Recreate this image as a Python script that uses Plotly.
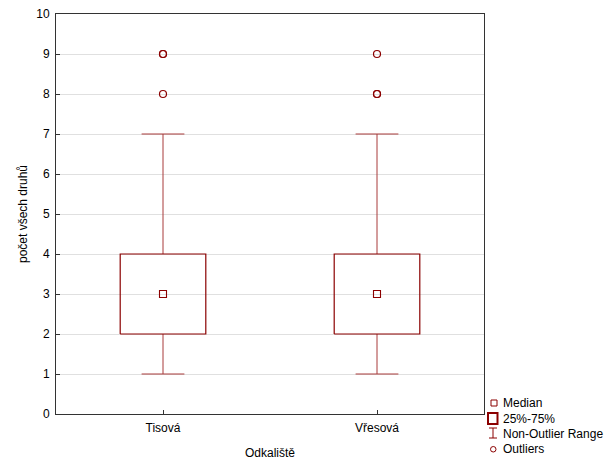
import plotly.graph_objects as go

categories = ["Tisová", "Vřesová"]
q1 = [2, 2]
median = [3, 3]
q3 = [4, 4]
whisk_low = [1, 1]
whisk_high = [7, 7]
outliers = [[8, 9, 9], [8, 8, 9]]
y_ticks = list(range(0, 11))
legend_labels = ["Median", "25%-75%", "Non-Outlier Range", "Outliers"]

RED = "#8B0000"
WHISK = "#A83A3A"
W, H = 616, 461
L, R, T, B = 56, 132, 14, 47
PW, PH = W - L - R, H - T - B

fig = go.Figure()
half_box, half_cap = 0.2, 0.1
for i, cat in enumerate(categories):
    fig.add_trace(go.Scatter(
        x=[i, i, None, i, i, None, i - half_cap, i + half_cap, None, i - half_cap, i + half_cap],
        y=[q3[i], whisk_high[i], None, q1[i], whisk_low[i], None,
           whisk_high[i], whisk_high[i], None, whisk_low[i], whisk_low[i]],
        mode="lines", line=dict(color=WHISK, width=1), hoverinfo="skip", showlegend=False))
    fig.add_trace(go.Scatter(
        x=[i - half_box, i + half_box, i + half_box, i - half_box, i - half_box],
        y=[q1[i], q1[i], q3[i], q3[i], q1[i]],
        mode="lines", line=dict(color=RED, width=1.2), hoverinfo="skip", showlegend=False))
    fig.add_trace(go.Scatter(
        x=[i], y=[median[i]], mode="markers",
        marker=dict(symbol="square-open", size=7, color=RED, line=dict(width=1.1)),
        showlegend=False))
    fig.add_trace(go.Scatter(
        x=[i] * len(outliers[i]), y=outliers[i], mode="markers",
        marker=dict(symbol="circle-open", size=7, color=RED, line=dict(width=1.2)),
        showlegend=False))

def px(x):
    return (x - L) / PW

def py(y):
    return (H - B - y) / PH

shapes = []
annotations = []
shapes.append(dict(type="rect", xref="paper", yref="paper", x0=px(491), x1=px(497), y0=py(406), y1=py(400),
                   line=dict(color=RED, width=1)))
shapes.append(dict(type="rect", xref="paper", yref="paper", x0=px(488), x1=px(497.5), y0=py(424), y1=py(413),
                   line=dict(color=RED, width=2)))
shapes.append(dict(type="line", xref="paper", yref="paper", x0=px(493), x1=px(493), y0=py(428), y1=py(438),
                   line=dict(color=RED, width=1)))
shapes.append(dict(type="line", xref="paper", yref="paper", x0=px(489), x1=px(497), y0=py(428), y1=py(428),
                   line=dict(color=RED, width=1)))
shapes.append(dict(type="line", xref="paper", yref="paper", x0=px(489), x1=px(497), y0=py(438), y1=py(438),
                   line=dict(color=RED, width=1)))
shapes.append(dict(type="circle", xref="paper", yref="paper", x0=px(490.5), x1=px(496), y0=py(452), y1=py(446.5),
                   line=dict(color=RED, width=1)))
for lbl, yy in zip(legend_labels, [403, 418.5, 434, 449]):
    annotations.append(dict(text=lbl, xref="paper", yref="paper", x=px(501), y=py(yy),
                            xanchor="left", yanchor="middle", showarrow=False,
                            font=dict(size=12, color="black")))

fig.update_layout(
    width=W, height=H,
    margin=dict(l=L, r=R, t=T, b=B, autoexpand=False),
    paper_bgcolor="white", plot_bgcolor="white",
    font=dict(family="Liberation Sans, Arial, sans-serif", size=12, color="black"),
    shapes=shapes, annotations=annotations,
    showlegend=False,
    xaxis=dict(range=[-0.5, 1.5], tickvals=list(range(len(categories))), ticktext=categories,
               showgrid=False, zeroline=False, showline=True, mirror=True, linecolor="#333333",
               linewidth=1, ticks="inside", ticklen=4, tickcolor="#333333", automargin=False,
               tickfont=dict(size=12), ticklabelstandoff=3,
               title=dict(text="Odkaliště", standoff=14, font=dict(size=12))),
    yaxis=dict(range=[0, 10], tickvals=y_ticks, showgrid=True, gridcolor="#e0e0e0", gridwidth=1,
               zeroline=False, showline=True, mirror=True, linecolor="#333333", linewidth=1,
               ticks="inside", ticklen=4, tickcolor="#333333", automargin=False,
               tickfont=dict(size=12), ticklabelstandoff=3,
               title=dict(text="počet všech druhů", standoff=6, font=dict(size=12))),
)

fig.write_html("out.html", config={"displayModeBar": False},
               post_script="document.body.style.margin='0px';document.body.style.overflow='hidden';")
